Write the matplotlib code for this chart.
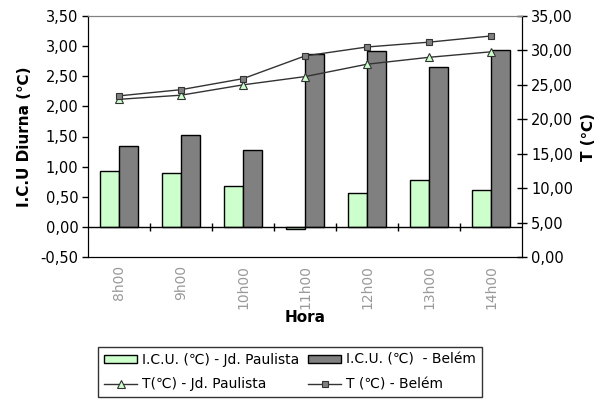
import matplotlib.pyplot as plt
import numpy as np
from matplotlib.ticker import FuncFormatter, MultipleLocator

plt.rcParams['font.family'] = ['DejaVu Sans']

# data
horas = ['8h00', '9h00', '10h00', '11h00', '12h00', '13h00', '14h00']
icu_paulista = [0.93, 0.89, 0.68, -0.04, 0.57, 0.78, 0.62]
icu_belem = [1.35, 1.53, 1.28, 2.87, 2.92, 2.65, 2.94]
t_paulista = [22.9, 23.5, 25.0, 26.2, 28.0, 29.0, 29.8]
t_belem = [23.4, 24.3, 25.9, 29.2, 30.5, 31.2, 32.1]

green = '#CCFFCC'
grey = '#808080'
line_col = '#333333'

fig = plt.figure(figsize=(6.07, 3.99), dpi=100)
ax = fig.add_axes([88 / 607, 1 - 257 / 399, 434 / 607, 241 / 399])
ax2 = ax.twinx()

x = np.arange(len(horas))
w = 0.30
b1 = ax.bar(x - w / 2, icu_paulista, w, color=green, edgecolor='black', linewidth=1,
            label='I.C.U. (\u2103) - Jd. Paulista')
b2 = ax.bar(x + w / 2, icu_belem, w, color=grey, edgecolor='black', linewidth=1,
            label='I.C.U. (\u2103)  - Belém')

l1, = ax2.plot(x, t_paulista, color=line_col, lw=1, marker='^', ms=5.5,
               mfc=green, mec=line_col, mew=0.8, label='T(\u2103) - Jd. Paulista')
l2, = ax2.plot(x, t_belem, color=line_col, lw=1, marker='s', ms=5,
               mfc=grey, mec=line_col, mew=0.8, label='T (\u2103) - Belém')

ax.set_xlim(-0.5, len(horas) - 0.5)
ax.set_ylim(-0.5, 3.5)
ax2.set_ylim(0, 35)

fmt = FuncFormatter(lambda v, p: f'{v:.2f}'.replace('.', ','))
ax.yaxis.set_major_locator(MultipleLocator(0.5))
ax.yaxis.set_major_formatter(fmt)
ax2.yaxis.set_major_locator(MultipleLocator(5))
ax2.yaxis.set_major_formatter(fmt)

ax.tick_params(axis='y', direction='out', length=4, width=1, labelsize=10.5, pad=3)
ax2.tick_params(axis='y', direction='inout', length=7, width=1, labelsize=10.5, pad=3)

# category axis sits at zero, ticks between the categories
ax.set_xticks(x)
ax.set_xticklabels(horas, rotation=90, color='#999999', fontsize=10)
ax.tick_params(axis='x', length=0, pad=6)
ax.axhline(0, color='black', lw=1, zorder=3)
ax.vlines(x[:-1] + 0.5, -0.07, 0.07, color='black', lw=1, zorder=3)

for a in (ax, ax2):
    a.spines['top'].set_color(grey)
    a.spines['left'].set_color('black')
    a.spines['bottom'].set_color('black')
    a.spines['right'].set_color('black')

ax.set_ylabel('I.C.U Diurna (\u2103)', fontsize=11, fontweight='bold', labelpad=6)
ax2.set_ylabel('T (\u2103)', fontsize=11, fontweight='bold', labelpad=6)
ax.set_xlabel('Hora', fontsize=11, fontweight='bold')
ax.xaxis.set_label_coords(0.5, -(310 - 257) / 241)

leg = fig.legend([b1, l1, b2, l2], [h.get_label() for h in (b1, l1, b2, l2)],
                 ncol=2, loc='upper left', bbox_to_anchor=(98 / 607, 1 - 347 / 399),
                 borderaxespad=0, frameon=True, fancybox=False, fontsize=10,
                 handlelength=2.4, handleheight=0.58, columnspacing=0.6,
                 handletextpad=0.36, borderpad=0.43, labelspacing=0.75)
leg.get_frame().set_edgecolor('black')
leg.get_frame().set_linewidth(1)

fig.savefig('out.png', dpi=100)
